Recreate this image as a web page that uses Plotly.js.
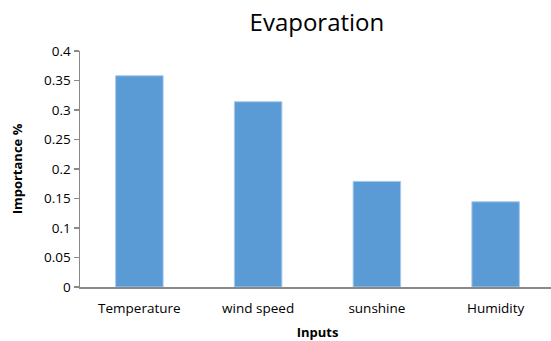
<!DOCTYPE html>
<html>
<head>
<meta charset="utf-8">
<script src="https://cdn.plot.ly/plotly-3.0.1.min.js"></script>
<style>html,body{margin:0;padding:0;overflow:hidden;background:#fff;}</style>
</head>
<body>
<div id="chart" style="width:556px;height:341px;"></div>
<script>
const categories = ["Temperature", "wind speed", "sunshine", "Humidity"];
const importance = [0.358, 0.314, 0.179, 0.1445];
const yTickVals = [0, 0.05, 0.1, 0.15, 0.2, 0.25, 0.3, 0.35, 0.4];
const yTickText = ["0", "0.05", "0.1", "0.15", "0.2", "0.25", "0.3", "0.35", "0.4"];

const font = "Open Sans, sans-serif";
Plotly.newPlot("chart", [{
  type: "bar",
  x: categories,
  y: importance,
  marker: {color: "#5b9bd5", line: {color: "#a9c9ea", width: 1}},
  hoverinfo: "none"
}], {
  width: 556, height: 341,
  margin: {l: 80, r: 1, t: 51, b: 54},
  paper_bgcolor: "#fff", plot_bgcolor: "#fff",
  bargap: 0.6,
  showlegend: false,
  title: {text: "Evaporation", font: {family: font, size: 24, color: "#000"}, x: 0.57, xanchor: "center", y: 0.935, yanchor: "middle"},
  xaxis: {
    title: {text: "<b>Inputs</b>", font: {family: font, size: 13, color: "#000"}, standoff: 12},
    tickfont: {family: font, size: 13.5, color: "#000"},
    ticklabelstandoff: 8,
    showline: true, linecolor: "#898989", linewidth: 2,
    ticks: "", showgrid: false, zeroline: false, fixedrange: true
  },
  yaxis: {
    title: {text: "<b>Importance %</b>", font: {family: font, size: 13, color: "#000"}, standoff: 18},
    tickfont: {family: font, size: 13.5, color: "#000"},
    range: [0, 0.4], tickvals: yTickVals, ticktext: yTickText,
    showline: true, linecolor: "#898989", linewidth: 1.5,
    ticks: "outside", ticklen: 5, tickcolor: "#898989", tickwidth: 1.5,
    showgrid: false, zeroline: false, fixedrange: true
  }
}, {staticPlot: true});
</script>
</body>
</html>
